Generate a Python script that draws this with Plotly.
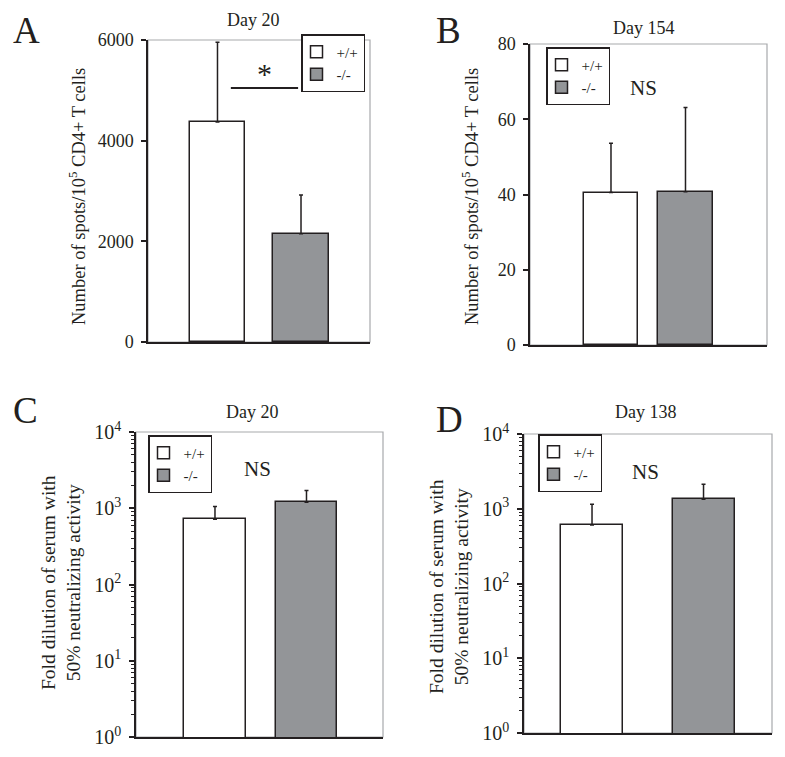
import plotly.graph_objects as go

FONT = "Liberation Serif"
OFF = 8  # browser body margin
W, H = 785 - OFF, 757 - OFF
INK = "#231f20"

groups = ["+/+", "-/-"]
colors = ["#ffffff", "#939598"]

# Panel A: Day 20 ELISPOT
a_vals = [4370, 2150]
a_err = [1585, 770]
# Panel B: Day 154 ELISPOT
b_vals = [40.5, 40.7]
b_err = [13.1, 22.4]
# Panel C: Day 20 neutralizing
c_vals = [720, 1200]
c_err = [335, 505]
# Panel D: Day 138 neutralizing
d_vals = [606, 1337]
d_err = [540, 790]

lin_ticks_a = [0, 2000, 4000, 6000]
lin_ticks_b = [0, 20, 40, 60, 80]
log_tickvals = [1, 10, 100, 1000, 10000]
log_ticktext = ["10<sup>0</sup>", "10<sup>1</sup>", "10<sup>2</sup>", "10<sup>3</sup>", "10<sup>4</sup>"]


def fx(x):
    return (x - OFF) / W


def fy(y):
    return 1 - (y - OFF) / H


panels = [
    dict(vals=a_vals, err=a_err, xd=[fx(148), fx(370)], yd=[fy(342), fy(40)],
         xr=[-0.832, 1.826], bw=0.66, leg=(333, 63), log=False, yr=[0, 6000],
         tfs=18, ytick=dict(tickvals=lin_ticks_a)),
    dict(vals=b_vals, err=b_err, xd=[fx(530), fx(767)], yd=[fy(345), fy(44)],
         xr=[-1.087, 2.094], bw=0.725, leg=(578, 76), log=False, yr=[0, 80],
         tfs=18, ytick=dict(tickvals=lin_ticks_b)),
    dict(vals=c_vals, err=c_err, xd=[fx(136), fx(383)], yd=[fy(737), fy(432)],
         xr=[-0.863, 1.836], bw=0.672, leg=(180, 464), log=True, yr=[0, 4],
         tfs=20, ytick=dict(tickvals=log_tickvals, ticktext=log_ticktext)),
    dict(vals=d_vals, err=d_err, xd=[fx(524), fx(772)], yd=[fy(733), fy(434)],
         xr=[-0.61, 1.614], bw=0.556, leg=(570, 463), log=True, yr=[0, 4],
         tfs=20, ytick=dict(tickvals=log_tickvals, ticktext=log_ticktext)),
]

fig = go.Figure()
layout = dict(
    width=W, height=H, margin=dict(l=0, r=0, t=0, b=0, autoexpand=False),
    paper_bgcolor="white", plot_bgcolor="white",
    font=dict(family=FONT, color=INK, size=18),
    bargap=0, barmode="overlay", showlegend=True,
)
shapes = []
annotations = []

for i, p in enumerate(panels):
    n = i + 1
    xa = "x" if n == 1 else f"x{n}"
    ya = "y" if n == 1 else f"y{n}"
    legname = "legend" if n == 1 else f"legend{n}"
    for j, g in enumerate(groups):
        fig.add_trace(go.Bar(
            x=[j], y=[p["vals"][j]], name=g, width=p["bw"],
            marker=dict(color=colors[j], line=dict(color=INK, width=1.5)),
            error_y=dict(type="data", symmetric=False, array=[p["err"][j]],
                         arrayminus=[0], color=INK, thickness=1.5, width=2),
            xaxis=xa, yaxis=ya, legend=legname,
        ))
    xkey = "xaxis" if n == 1 else f"xaxis{n}"
    ykey = "yaxis" if n == 1 else f"yaxis{n}"
    layout[xkey] = dict(domain=p["xd"], range=p["xr"], anchor=ya, automargin=False,
                        showticklabels=False, ticks="", showgrid=False,
                        zeroline=False, showline=True, linecolor=INK,
                        linewidth=1.5, fixedrange=True)
    yax = dict(domain=p["yd"], anchor=xa, showgrid=False, zeroline=False, automargin=False,
               showline=True, linecolor=INK, linewidth=1.5,
               ticks="outside", ticklen=5, tickwidth=1.5, tickcolor=INK,
               tickfont=dict(family=FONT, size=p["tfs"], color=INK),
               ticklabelstandoff=4, range=p["yr"], fixedrange=True,
               tickmode="array", **p["ytick"])
    if p["log"]:
        yax["type"] = "log"
        yax["minor"] = dict(ticks="outside", ticklen=3.5, tickwidth=1,
                            tickcolor=INK, dtick="D1")
    layout[ykey] = yax
    lx, ly = p["leg"]
    layout[legname] = dict(
        x=fx(lx), y=fy(ly), xanchor="center", yanchor="middle",
        xref="paper", yref="paper",
        bordercolor=INK, borderwidth=1.5, bgcolor="white",
        font=dict(family=FONT, size=15, color=INK),
        itemwidth=30, tracegroupgap=0, indentation=-6,
    )
    shapes.append(dict(type="rect", xref=f"{xa} domain", yref=f"{ya} domain",
                       x0=0, x1=1, y0=0, y1=1, line=dict(color="#a7a9ac", width=1.2),
                       layer="below"))

layout["shapes"] = shapes


def ann(text, x, y, size, angle=0, **kw):
    annotations.append(dict(text=text, x=fx(x), y=fy(y), xref="paper", yref="paper",
                            showarrow=False, font=dict(family=FONT, size=size, color=INK),
                            textangle=angle, xanchor="center", yanchor="middle", **kw))


# panel letters
ann("A", 26, 30, 37)
ann("B", 448, 30, 37)
ann("C", 25, 410, 37)
ann("D", 449, 419, 37)
# titles
ann("Day 20", 254, 20, 18)
ann("Day 154", 644, 28, 18)
ann("Day 20", 252, 412, 18)
ann("Day 138", 646, 412, 18)
# y titles
ann("Number of spots/10<sup>5</sup> CD4+ T cells", 77, 197, 18.5, -90)
ann("Number of spots/10<sup>5</sup> CD4+ T cells", 470, 197, 18.5, -90)
ann("Fold dilution of serum with<br>50% neutralizing activity", 61, 582, 19.5, -90)
ann("Fold dilution of serum with<br>50% neutralizing activity", 449, 587, 19.5, -90)
# NS labels
ann("NS", 643, 88, 21)
ann("NS", 257, 469, 21)
ann("NS", 645, 472, 21)

layout["annotations"] = annotations
fig.update_layout(**layout)

# significance bar panel A
fig.add_shape(type="line", xref="x", yref="y", x0=0.16, x1=0.965, y0=5046, y1=5046,
              line=dict(color=INK, width=2))
fig.add_annotation(text="*", x=0.56, y=5330, xref="x", yref="y", showarrow=False,
                   font=dict(family=FONT, size=30, color=INK))

fig.write_html("out.html")
